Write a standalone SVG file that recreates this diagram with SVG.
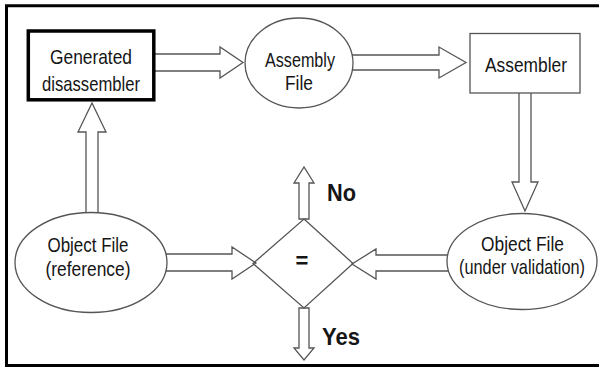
<svg xmlns="http://www.w3.org/2000/svg" width="599" height="368" viewBox="0 0 599 368">
<defs>
<style>
.frame{stroke:#000;stroke-width:3;fill:none}
.conn{fill:#fff;stroke:#555;stroke-width:1.3;stroke-linejoin:miter}
.node{fill:#fff;stroke:#555;stroke-width:1.3}
.lbl{font-family:"Liberation Sans",Arial,sans-serif;font-size:21px;fill:#151515;text-anchor:middle}
.big{font-family:"Liberation Sans",Arial,sans-serif;font-size:24px;font-weight:bold;fill:#151515}
</style>
</defs>
<rect width="599" height="368" fill="#fff"/>
<g id="frame">
<path class="frame" d="M599 5.7 H6.5 V365.5 H599"/>
</g>
<g id="connectors">
<polygon class="conn" points="150,54 220,54 220,47 243,62.5 220,78 220,71 150,71"/>
<polygon class="conn" points="345,55 439,55 439,47 466,62.5 439,78 439,70 345,70"/>
<polygon class="conn" points="519,88 531,88 531,182 538,182 525,211 512,182 519,182"/>
<polygon class="conn" points="460,255 376,255 376,249 352,264 376,279 376,271 460,271"/>
<polygon class="conn" points="160,254 232,254 232,247 256,263 232,279 232,271 160,271"/>
<polygon class="conn" points="86,225 86,132 78,132 92,103 106,132 98,132 98,225"/>
<polygon class="conn" points="299,219 299,183 294,183 304,167 314,183 309,183 309,219"/>
<polygon class="conn" points="299,308 299,348 294,348 304,360 314,348 309,348 309,308"/>
</g>
<g id="generated-disassembler">
<rect x="28.3" y="31" width="125.5" height="68.8" fill="#fff" stroke="#000" stroke-width="3.5"/>
<text class="lbl" x="91" y="64" textLength="82" lengthAdjust="spacingAndGlyphs">Generated</text>
<text class="lbl" x="91" y="91" textLength="98" lengthAdjust="spacingAndGlyphs">disassembler</text>
</g>
<g id="assembly-file">
<ellipse class="node" cx="299" cy="63" rx="54" ry="45"/>
<text class="lbl" x="300" y="67" textLength="70" lengthAdjust="spacingAndGlyphs">Assembly</text>
<text class="lbl" x="299" y="90" textLength="28" lengthAdjust="spacingAndGlyphs">File</text>
</g>
<g id="assembler">
<rect class="node" x="470" y="33.5" width="110" height="59.5"/>
<text class="lbl" x="526" y="72" textLength="82" lengthAdjust="spacingAndGlyphs">Assembler</text>
</g>
<g id="object-file-reference">
<ellipse class="node" cx="91" cy="262.5" rx="76" ry="50"/>
<text class="lbl" x="88" y="252" textLength="81" lengthAdjust="spacingAndGlyphs">Object File</text>
<text class="lbl" x="88" y="276" textLength="85" lengthAdjust="spacingAndGlyphs">(reference)</text>
</g>
<g id="object-file-under-validation">
<ellipse class="node" cx="522" cy="261.5" rx="75" ry="48"/>
<text class="lbl" x="522.5" y="251" textLength="83" lengthAdjust="spacingAndGlyphs">Object File</text>
<text class="lbl" x="522" y="274" textLength="126" lengthAdjust="spacingAndGlyphs">(under validation)</text>
</g>
<g id="compare">
<polygon points="304,219 353,263.5 304,308 253,263.5" fill="none" stroke="#555" stroke-width="1.3"/>
<text x="302" y="268" font-family="Liberation Sans, Arial, sans-serif" font-size="22" font-weight="bold" fill="#151515" text-anchor="middle">=</text>
</g>
<g id="label-no">
<text class="big" x="327" y="201" textLength="29" lengthAdjust="spacingAndGlyphs">No</text>
</g>
<g id="label-yes">
<text class="big" x="322" y="345" textLength="38" lengthAdjust="spacingAndGlyphs">Yes</text>
</g>
</svg>
